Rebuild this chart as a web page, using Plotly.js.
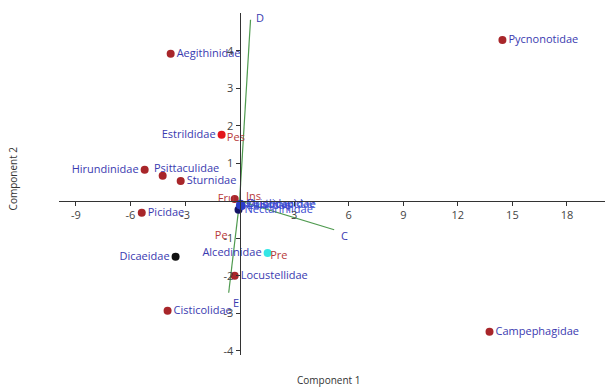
<!DOCTYPE html>
<html>
<head>
<meta charset="utf-8">
<script src="https://cdn.plot.ly/plotly-3.0.1.min.js"></script>
<style>html,body{margin:0;padding:0;background:#fff;}#chart{width:612px;height:389px;}</style>
</head>
<body>
<div id="chart"></div>
<script>
// Family scores (dark red points)
const famNames = ['Aegithinidae','Pycnonotidae','Hirundinidae','Psittaculidae','Sturnidae','Picidae','Locustellidae','Cisticolidae','Campephagidae'];
const famX = [-3.79, 14.45, -5.22, -4.23, -3.24, -5.38, -0.27, -3.96, 13.74];
const famY = [3.92, 4.29, 0.83, 0.67, 0.53, -0.32, -2.0, -2.93, -3.49];

// Other coloured family points
const estName = ['Estrildidae']; const estX = [-0.99]; const estY = [1.76];
const dicName = ['Dicaeidae']; const dicX = [-3.52]; const dicY = [-1.49];
const alcName = ['Alcedinidae']; const alcX = [1.54]; const alcY = [-1.39];

// Cluster near origin (overlapping labels)
const clusterNames = ['Nectariniidae','Muscicapidae','Zosteropidae','Laniidae','Oriolidae'];
const clusterX = [-0.06, 0.02, 0.08, 0.12, 0.05];
const clusterY = [-0.24, -0.12, -0.1, -0.14, -0.08];

// Group labels (red)
const grpNames = ['Fru','Ins','Pes','Pe','Pre'];
const grpX = [-0.27, 0.35, -0.7, -0.66, 1.68];
const grpY = [0.05, 0.1, 1.68, -0.93, -1.47];

// Loading vectors (green)
const vecNames = ['C','D','E'];
const vecX = [5.2, 0.6, -0.6];
const vecY = [-0.77, 4.83, -2.45];

// Axis ticks
const xTicks = [-9,-6,-3,3,6,9,12,15,18];
const yTicks = [-4,-3,-2,-1,1,2,3,4];

const xRange = [-9.93, 20.09];
const yRange = [-4.11, 5.01];

const blue = '#3a3ab0';
const red = '#b83a3a';
const font = 'Open Sans, Noto Sans, sans-serif';

// label placement per family (Psittaculidae label drawn separately, offset as in the original)
const famPos = ['middle right','middle right','middle left','none','middle right','middle right','middle right','middle right','middle right'];

const traces = [];
vecNames.forEach((n,i)=>{
  traces.push({x:[0,vecX[i]], y:[0,vecY[i]], mode:'lines', line:{color:'#4f9a4f', width:1.2}, hoverinfo:'skip', showlegend:false});
});
traces.push({x:famX, y:famY, text:famNames.map((n,i)=>famPos[i]==='none'?'':n), mode:'markers+text',
  textposition:famPos.map(p=>p==='none'?'middle right':p),
  marker:{color:'#a8262a', size:8}, textfont:{color:blue, size:11, family:font}, cliponaxis:false, showlegend:false});
traces.push({x:estX, y:estY, text:estName, mode:'markers+text', textposition:'middle left',
  marker:{color:'#e3161c', size:8}, textfont:{color:blue, size:11, family:font}, showlegend:false});
traces.push({x:dicX, y:dicY, text:dicName, mode:'markers+text', textposition:'middle left',
  marker:{color:'#111111', size:8}, textfont:{color:blue, size:11, family:font}, showlegend:false});
traces.push({x:alcX, y:alcY, text:alcName, mode:'markers+text', textposition:'middle left',
  marker:{color:'#33e6e6', size:8}, textfont:{color:blue, size:11, family:font}, showlegend:false});
traces.push({x:[grpX[0]], y:[grpY[0]], mode:'markers', marker:{color:'#a8262a', size:8}, showlegend:false});
traces.push({x:clusterX, y:clusterY, text:clusterNames, mode:'markers+text', textposition:'middle right',
  marker:{color:['#141466','#2a3cc8','#2a3cc8','#2a3cc8','#2a3cc8'], size:8}, textfont:{color:'#3a4ad0', size:11, family:font}, showlegend:false});
traces.push({x:grpX, y:grpY, text:grpNames, mode:'text',
  textposition:['middle left','middle right','middle right','middle left','middle right'],
  textfont:{color:red, size:11, family:font}, showlegend:false});

const annotations = [];
const pIdx = famNames.indexOf('Psittaculidae');
annotations.push({x:famX[pIdx], y:famY[pIdx], text:famNames[pIdx], showarrow:false, xanchor:'left',
  xshift:-11, yshift:8, font:{color:blue, size:11, family:font}});
const vShift = [[10,-6],[9,2],[7,-10]];
vecNames.forEach((n,i)=>{
  annotations.push({x:vecX[i], y:vecY[i], text:n, showarrow:false, xshift:vShift[i][0], yshift:vShift[i][1],
    font:{color:blue, size:11, family:font}});
});
annotations.push({xref:'paper', yref:'paper', x:0.494, y:-0.1, text:'Component 1', showarrow:false,
  font:{size:10, color:'#333', family:font}});
annotations.push({xref:'paper', yref:'paper', x:-0.1, y:0.5175, text:'Component 2', showarrow:false, textangle:-90,
  font:{size:10, color:'#333', family:font}});

const xPos = (0 - yRange[0])/(yRange[1]-yRange[0]);
const yPos = (0 - xRange[0])/(xRange[1]-xRange[0]);

const layout = {
  width:612, height:389,
  margin:{l:59, r:7, t:13, b:34},
  paper_bgcolor:'#fff', plot_bgcolor:'#fff',
  font:{family:font, size:11, color:'#444'},
  xaxis:{range:xRange, anchor:'free', position:xPos, showline:true, linecolor:'#333', linewidth:1,
    ticks:'outside', ticklen:4, tickcolor:'#333', tickvals:xTicks, ticktext:xTicks.map(String),
    showgrid:false, zeroline:false, tickfont:{size:11, color:'#444', family:font}},
  yaxis:{range:yRange, anchor:'free', position:yPos, showline:true, linecolor:'#333', linewidth:1,
    ticks:'outside', ticklen:4, tickcolor:'#333', tickvals:yTicks, ticktext:yTicks.map(String),
    showgrid:false, zeroline:false, tickfont:{size:11, color:'#444', family:font}},
  annotations:annotations,
  showlegend:false
};

Plotly.newPlot('chart', traces, layout, {displayModeBar:false, staticPlot:true});
</script>
</body>
</html>
